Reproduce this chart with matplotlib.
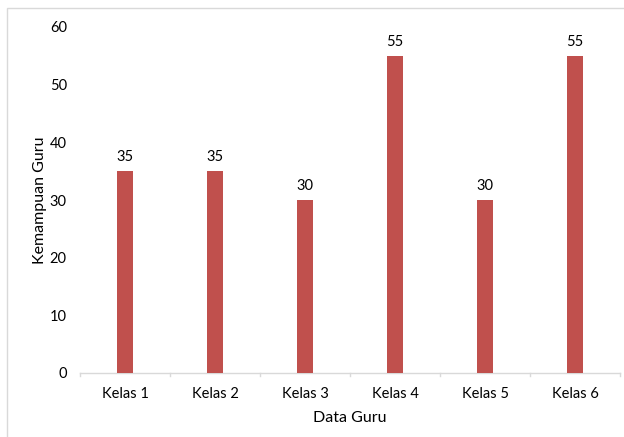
import matplotlib
matplotlib.use("Agg")
import matplotlib.pyplot as plt
from matplotlib.patches import Rectangle

categories = ["Kelas 1", "Kelas 2", "Kelas 3", "Kelas 4", "Kelas 5", "Kelas 6"]
values = [35, 35, 30, 55, 30, 55]
yticks = [0, 10, 20, 30, 40, 50, 60]

plt.rcParams['font.family'] = ['Lato', 'DejaVu Sans']

W, H = 624, 437
fig = plt.figure(figsize=(W/100, H/100), dpi=100)
fig.patch.set_facecolor('white')

# outer chart border
fig.patches.append(Rectangle((7/W, -0.05), 1.1, 1 - 8/H + 0.05, transform=fig.transFigure,
                             fill=False, edgecolor='#D9D9D9', linewidth=1.0))

ax = fig.add_axes([80/W, 1 - 373/H, 540/W, (373 - 27)/H])
x = list(range(len(categories)))
bars = ax.bar(x, values, width=0.167, color='#C0504D', zorder=3)
for xi, v in zip(x, values):
    ax.text(xi, v + 1.2, str(v), ha='center', va='bottom', fontsize=10.5, color='black')

ax.set_xlim(-0.5, len(categories) - 0.5)
ax.set_ylim(0, 60)
ax.set_yticks(yticks)
ax.set_yticklabels([str(t) for t in yticks], fontsize=10.5)
ax.set_xticks(x)
ax.set_xticklabels(categories, fontsize=10.5)
ax.tick_params(axis='y', length=0, pad=9.5)
ax.tick_params(axis='x', length=0, pad=10)
# category boundary ticks
for b in [i - 0.5 for i in range(len(categories) + 1)]:
    ax.plot([b, b], [0, -0.6], color='#D9D9D9', lw=1, clip_on=False, zorder=2)

for s in ['top', 'right', 'left']:
    ax.spines[s].set_visible(False)
ax.spines['bottom'].set_color('#D9D9D9')
ax.spines['bottom'].set_linewidth(1)

ax.set_xlabel("Data Guru", fontsize=11.5, labelpad=7)
ax.set_ylabel("Kemampuan Guru", fontsize=11.5, labelpad=2)

fig.savefig("out.png", dpi=100)
